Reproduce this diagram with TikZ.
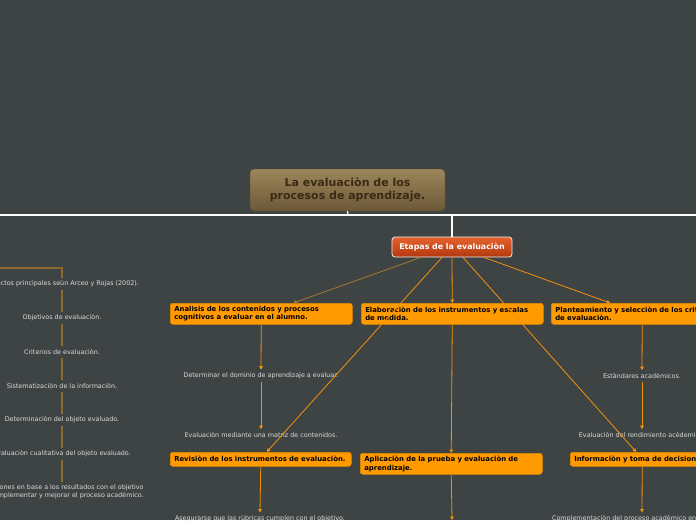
\documentclass[tikz,border=0pt]{standalone}
\usepackage{fontspec}
\setmainfont{DejaVu Sans}
\usetikzlibrary{arrows.meta}
\definecolor{bg}{HTML}{3E4444}
\definecolor{ofill}{HTML}{FF9B00}
\definecolor{oborder}{HTML}{E08A00}
\definecolor{ocol}{HTML}{F2920C}
\definecolor{bcol}{HTML}{8C6A2E}
\definecolor{bcol2}{HTML}{A8782E}
\definecolor{leafc}{HTML}{DADADA}
\definecolor{roottop}{HTML}{9C865A}
\definecolor{rootbot}{HTML}{6C5838}
\definecolor{roottxt}{HTML}{3A2A14}
\definecolor{etop}{HTML}{E4622E}
\definecolor{ebot}{HTML}{B3380F}
\tikzset{
  obox/.style={draw=oborder, fill=ofill, line width=0.5pt, rounded corners=2.5pt, anchor=north west,
    minimum height=21pt, inner xsep=4pt, inner ysep=0pt, align=left,
    font=\fontsize{6.9}{8.6}\selectfont\bfseries, text=black},
  leaf/.style={font=\fontsize{6.4}{8.2}\selectfont, text=leafc, inner sep=3pt, align=center},
  arr/.style={draw=ocol, line width=0.8pt, -{Triangle[length=3.5pt,width=3.6pt]}},
  barr/.style={draw=bcol2, line width=0.8pt, -{Triangle[length=3.5pt,width=3.6pt]}},
  bline/.style={draw=bcol, line width=1.2pt},
  wline/.style={draw=white, line width=1.2pt}
}
\begin{document}
\begin{tikzpicture}[x=1pt,y=-1pt]
\fill[bg] (0,0) rectangle (696,520);
\useasboundingbox (0,0) rectangle (696,520);

% root
\node[rounded corners=4pt, top color=roottop, bottom color=rootbot, draw=rootbot!80!black, line width=0.3pt,
  minimum width=195pt, minimum height=42pt, align=center, text=roottxt,
  font=\fontsize{11}{13}\selectfont\bfseries] (root) at (347.5,190)
  {La evaluaciòn de los\\procesos de aprendizaje.};
\coordinate (hl) at (0,215);
\coordinate (hr) at (696,215);
\coordinate (rt) at (348,215);
\draw[wline] (hl) -- (hr);
\draw[wline] (root.south) -- (rt);

% etapas
\node[rounded corners=3pt, top color=etop, bottom color=ebot, draw=white!88!gray, line width=0.8pt,
  minimum width=120pt, minimum height=20pt, text=white,
  font=\fontsize{7.9}{9.5}\selectfont\bfseries] (etapas) at (452,247) {Etapas de la evaluaciòn};
\coordinate (et) at (452,215);
\draw[wline] (et) -- (etapas.north);

% orange boxes
\node[obox, text width=174pt] (anal) at (170,303) {Analisis de los contenidos y procesos\\cognitivos a evaluar en el alumno.};
\node[obox, text width=174pt] (elab) at (361,303) {Elaboraciòn de los instrumentos y escalas\\de medida.};
\node[obox, text width=174pt] (plant) at (551,303) {Planteamiento y selecciòn de los criterios\\de evaluaciòn.};
\node[obox, text width=173pt, minimum height=14pt] (rev) at (170,452) {Revisiòn de los instrumentos de evaluaciòn.};
\node[obox, text width=174pt] (apl) at (360,453) {Aplicaciòn de la prueba y evaluaciòn de\\aprendizaje.};
\node[obox, text width=136pt, minimum height=14pt] (info) at (570,452) {Informaciòn y toma de decisiones.};

% leaves
\node[leaf] (det) at (261,376) {Determinar el dominio de aprendizaje a evaluar.};
\node[leaf] (mat) at (261,435) {Evaluaciòn mediante una matriz de contenidos.};
\node[leaf] (ase) at (260,519) {Asegurarse que las rùbricas cumplen con el objetivo.};
\node[leaf] (est) at (642,376) {Estàndares acadèmicos.};
\node[leaf] (ren) at (642,435) {Evaluaciòn del rendimiento acèdemico.};
\node[leaf] (comp) at (642,519) {Complementaciòn del proceso acadèmico en el alumno.};
\coordinate (apend) at (452,520);

% left column
\coordinate (lp) at (-5,268);
\node[leaf] (L1) at (62,284) {Aspectos principales seùn Arceo y Rojas (2002).};
\node[leaf] (L2) at (62,318) {Objetivos de evaluaciòn.};
\node[leaf] (L3) at (62,352) {Criterios de evaluaciòn.};
\node[leaf] (L4) at (62,386) {Sistematizaciòn de la informaciòn.};
\node[leaf] (L5) at (62,420) {Determinaciòn del objeto evaluado.};
\node[leaf] (L6) at (62,454) {Evaluaciòn cualitativa del objeto evaluado.};
\node[leaf] (L7) at (62,492) {Decisiones en base a los resultados con el objetivo\\de complementar y mejorar el proceso acadèmico.};
\draw[bline] (lp) -| (L1.north);
\draw[bline] (L1.south) -- (L2.north);
\draw[bline] (L2.south) -- (L3.north);
\draw[bline] (L3.south) -- (L4.north);
\draw[bline] (L4.south) -- (L5.north);
\draw[bline] (L5.south) -- (L6.north);
\draw[bline] (L6.south) -- (L7.north);

% connectors from etapas
\draw[barr] ([xshift=-31pt]etapas.south) -- ([xshift=32pt]anal.north);
\draw[arr] ([xshift=-10pt]etapas.south) -- ([xshift=6pt]rev.north);
\draw[arr] (etapas.south) -- (elab.north);
\draw[arr] ([xshift=11pt]etapas.south) -- ([xshift=-6pt]info.north);
\draw[arr] ([xshift=32pt]etapas.south) -- ([xshift=-32pt]plant.north);

% children
\draw[arr] (anal.south) -- (det.north);
\draw[arr] (det.south) -- (mat.north);
\draw[arr] (rev.south) -- (ase.north);
\draw[arr] (elab.south) -- (apl.north);
\draw[arr] (apl.south) -- (apend);
\draw[arr] (plant.south) -- (est.north);
\draw[arr] (est.south) -- (ren.north);
\draw[arr] (info.south) -- (comp.north);
\end{tikzpicture}
\end{document}
